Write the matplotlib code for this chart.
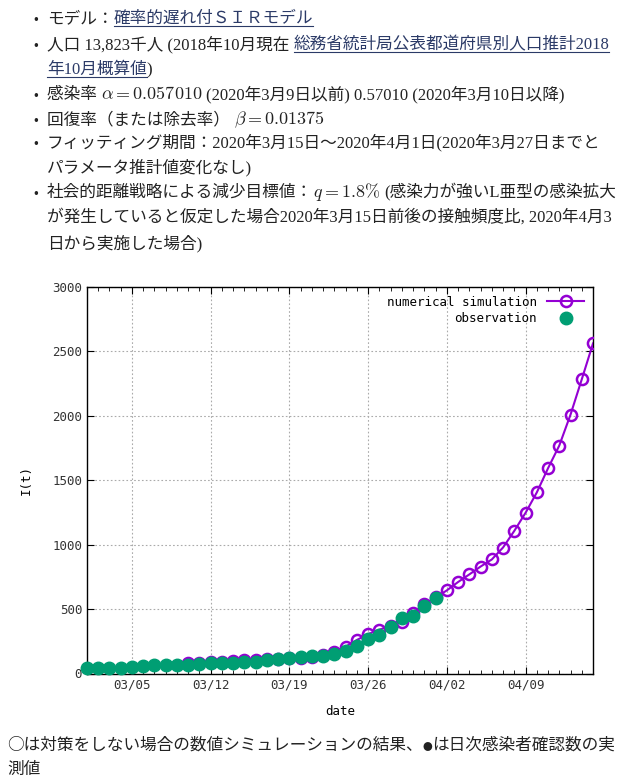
import matplotlib
matplotlib.use("Agg")
import matplotlib.pyplot as plt
import matplotlib.dates as mdates
from matplotlib.lines import Line2D
import numpy as np

plt.rcParams['mathtext.fontset'] = 'cm'

# observed daily cumulative confirmed cases, 2020-03-01 .. 2020-04-01
obs_start = '2020-03-01'
obs_vals = [40, 40, 41, 46, 50, 57, 63, 65, 67, 69, 74, 78, 81, 85, 88, 91,
            104, 112, 117, 127, 132, 137, 155, 172, 213, 264, 298, 360, 428,
            446, 524, 585]
# numerical simulation, 2020-03-10 .. 2020-04-15
sim_start = '2020-03-10'
sim_vals = [80, 84, 88, 93, 97, 101, 105, 109, 113, 118, 123, 130, 142, 170,
            208, 260, 306, 340, 370, 402, 466, 540, 590, 645, 710, 769, 830,
            885, 978, 1107, 1247, 1405, 1593, 1769, 2009, 2283, 2562]
tick_dates = ['2020-03-05', '2020-03-12', '2020-03-19', '2020-03-26',
              '2020-04-02', '2020-04-09']

obs_dates = np.datetime64(obs_start) + np.arange(len(obs_vals))
sim_dates = np.datetime64(sim_start) + np.arange(len(sim_vals))

W, H = 630, 780
fig = plt.figure(figsize=(W / 100, H / 100), dpi=100)
renderer = fig.canvas.get_renderer()

txt_font = ['Liberation Serif', 'Noto Sans CJK JP']
jp_font = ['Noto Sans CJK JP', 'DejaVu Sans']
txt_col = '#222222'
link_col = '#2b3a67'
fs = 12


def draw_line(segs, x0, y, bullet=False):
    if bullet:
        fig.text(33 / W, 1 - y / H, '•', fontsize=10, color=txt_col,
                 va='baseline', ha='left', family=jp_font)
    x = x0
    for s, kind in segs:
        if kind == 'math':
            t = fig.text(x / W, 1 - y / H, s, fontsize=fs + 1, color=txt_col,
                         va='baseline', ha='left')
        elif kind == 'jp':
            t = fig.text(x / W, 1 - y / H, s, fontsize=fs, color=txt_col,
                         va='baseline', ha='left', family=jp_font)
        elif kind == 'dot':
            t = fig.text(x / W, 1 - y / H, s, fontsize=7, color=txt_col,
                         va='baseline', ha='left', family=jp_font)
        else:
            col = link_col if kind == 'link' else txt_col
            t = fig.text(x / W, 1 - y / H, s, fontsize=fs, color=col,
                         va='baseline', ha='left', family=txt_font)
        bb = t.get_window_extent(renderer)
        if kind == 'link':
            yy = 1 - (y + 3) / H
            fig.add_artist(Line2D([bb.x0 / W, bb.x1 / W], [yy, yy],
                                  color=link_col, lw=0.8))
        x = bb.x1 + (4 if kind == 'math' else 0)


draw_line([('モデル：', 'txt'), ('確率的遅れ付ＳＩＲモデル', 'link')], 47, 23, True)
draw_line([('人口 13,823千人 (2018年10月現在 ', 'txt'),
           ('総務省統計局公表都道府県別人口推計2018', 'link')], 47, 49, True)
draw_line([('年10月概算値', 'link'), (')', 'txt')], 47, 74)
draw_line([('感染率 ', 'txt'), (r'$\alpha = 0.057010$', 'math'),
           ('(2020年3月9日以前) 0.57010 (2020年3月10日以降)', 'txt')], 47, 99, True)
draw_line([('回復率（または除去率） ', 'txt'), (r'$\beta = 0.01375$', 'math')], 47, 124, True)
draw_line([('フィッティング期間：2020年3月15日〜2020年4月1日(2020年3月27日までと', 'txt')],
          47, 147, True)
draw_line([('パラメータ推計値変化なし)', 'txt')], 47, 172)
draw_line([('社会的距離戦略による減少目標値：', 'txt'), (r'$q = 1.8\%$', 'math'),
           ('(感染力が強いL亜型の感染拡大', 'txt')], 47, 197, True)
draw_line([('が発生していると仮定した場合2020年3月15日前後の接触頻度比, 2020年4月3', 'txt')],
          47, 222)
draw_line([('日から実施した場合)', 'txt')], 47, 248)

draw_line([('○は対策をしない場合の数値シミュレーションの結果、', 'jp'), ('●', 'dot'),
           ('は日次感染者確認数の実', 'jp')], 7, 750)
draw_line([('測値', 'jp')], 7, 774)

# chart
ax = fig.add_axes([87 / W, 1 - 673.5 / H, (593 - 87) / W, (673.5 - 287) / H])
purple = '#9400d3'
green = '#009e73'
ax.plot(sim_dates, sim_vals, color=purple, lw=1.5, marker='o', ms=8,
        mfc='none', mec=purple, mew=1.8, label='numerical simulation', zorder=3)
ax.plot(obs_dates, obs_vals, ls='none', marker='o', ms=9, color=green,
        label='observation', zorder=4, clip_on=False)

ax.set_xlim(np.datetime64('2020-03-01'), np.datetime64('2020-04-15'))
ax.set_ylim(0, 3000)
ax.set_yticks(range(0, 3001, 500))
ax.set_xticks([np.datetime64(d) for d in tick_dates])
ax.xaxis.set_major_formatter(mdates.DateFormatter('%m/%d'))
ax.xaxis.set_minor_locator(mdates.DayLocator())
ax.tick_params(which='both', direction='in', top=True, right=True,
               labelsize=9, length=5, colors='black')
ax.tick_params(which='minor', length=3)
for lab in ax.get_xticklabels() + ax.get_yticklabels():
    lab.set_family('DejaVu Sans Mono')
    lab.set_color('#333333')
ax.grid(True, which='major', color='#aaaaaa', ls=(0, (1.5, 2)), lw=0.8)
ax.set_ylabel('I(t)', family='DejaVu Sans Mono', fontsize=9, labelpad=14)
ax.set_xlabel('date', family='DejaVu Sans Mono', fontsize=9, labelpad=10)
for sp in ax.spines.values():
    sp.set_linewidth(1.0)

ax.legend(loc='upper right', frameon=False, markerfirst=False,
          prop={'family': 'DejaVu Sans Mono', 'size': 9}, handlelength=3,
          borderaxespad=0.3, labelspacing=0.3)

fig.savefig('out.png', dpi=100)
